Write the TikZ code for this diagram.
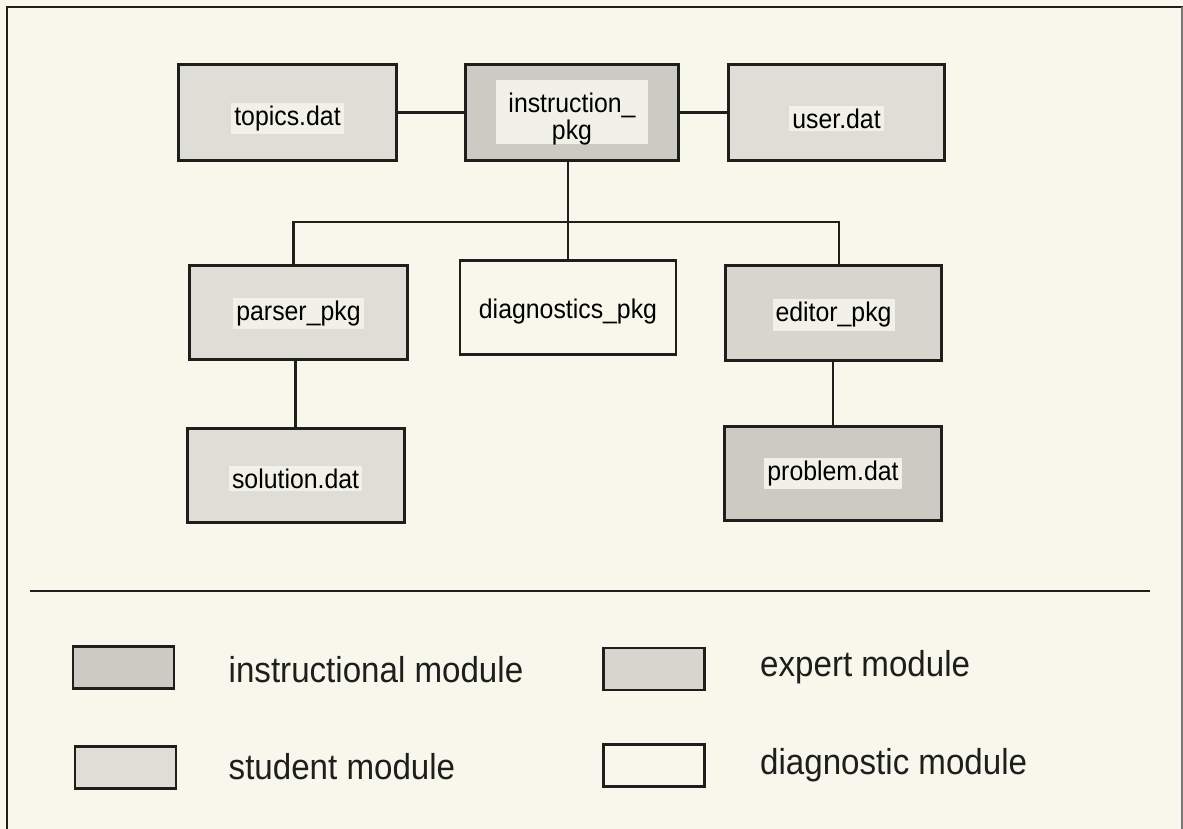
\documentclass[tikz,border=0pt]{standalone}
\usepackage{fontspec}
\setmainfont{Liberation Sans}[FakeStretch=0.92]
\definecolor{bg}{HTML}{F8F7EC}
\definecolor{ink}{HTML}{1E1E1C}
\definecolor{shA}{HTML}{CBCBC3}
\definecolor{shB}{HTML}{DEDED6}
\definecolor{shC}{HTML}{D6D6CE}
\definecolor{hlcol}{HTML}{F1F1E8}
\newcommand{\hltxt}[2][0pt]{\raisebox{-#1}[\height][\depth]{\setlength{\fboxsep}{3pt}\colorbox{hlcol}{#2}}}
\newcommand{\lowertxt}[2]{\raisebox{-#1}[\height][\depth]{#2}}
\begin{document}
\begin{tikzpicture}[x=1pt,y=1pt,
  mod/.style={draw=ink, line width=2.8pt, inner sep=0pt, align=center,
    font=\fontsize{27}{22}\selectfont},
  legbox/.style={draw=ink, line width=2.5pt, inner sep=0pt,
    minimum width=101pt, minimum height=42pt},
  legtxt/.style={anchor=base west, inner sep=0pt, text=ink,
    font=\fontsize{36}{38}\selectfont},
  conn/.style={draw=ink, line width=2.8pt},
  frameline/.style={draw=ink, line width=2pt}]
\fill[bg] (0,0) rectangle (1183,829);
\useasboundingbox (0,0) rectangle (1183,829);
% frame
\coordinate (fTL) at (7,822);
\coordinate (fBL) at (7,-5);
\coordinate (fTR) at (1190,822);
\coordinate (fR1) at (1181.5,822);
\coordinate (fR2) at (1181.5,-5);
\draw[frameline] (fBL) -- (fTL) -- (fTR);
\draw[frameline, draw=ink!60] (fR1) -- (fR2);
% top row
\node[mod, fill=shB, minimum width=218pt, minimum height=96pt] (topics) at (287.5,716.5) {\hltxt[6pt]{topics.dat}};
\node[mod, fill=shA, minimum width=213pt, minimum height=96pt,
  path picture={\fill[hlcol] ([xshift=30pt,yshift=-16pt]path picture bounding box.north west) rectangle ([xshift=-31pt,yshift=16pt]path picture bounding box.south east);}]
  (instr) at (572,716.5) {\lowertxt{7pt}{\begin{tabular}{@{}c@{}}instruction\_\\pkg\end{tabular}}};
\node[mod, fill=shB, minimum width=216pt, minimum height=96pt] (user) at (836.5,716.5) {\hltxt[6pt]{user.dat}};
% middle row
\node[mod, fill=shB, minimum width=218pt, minimum height=94pt] (parser) at (298.5,516.5) {\hltxt[1pt]{parser\_pkg}};
\node[mod, minimum width=216pt, minimum height=94pt] (diag) at (568,521.5) {\lowertxt{4pt}{diagnostics\_pkg}};
\node[mod, fill=shC, minimum width=216pt, minimum height=95pt] (editor) at (833.5,516) {\hltxt[2pt]{editor\_pkg}};
% bottom row
\node[mod, fill=shB, minimum width=217pt, minimum height=94pt] (solution) at (295.6,353.5) {\hltxt[3pt]{solution.dat}};
\node[mod, fill=shA, minimum width=217pt, minimum height=94pt] (problem) at (833,355.5) {\hltxt[0pt]{problem.dat}};
% connectors
\draw[conn] (topics.east) -- (instr.west);
\draw[conn] (instr.east) -- (user.west);
\draw[conn] (diag.north) -- (diag.north |- instr.south);
\coordinate (busL) at (293.5,607);
\coordinate (busR) at (839,607);
\draw[conn] (busL |- parser.north) -- (busL) -- (busR) -- (busR |- editor.north);
\draw[conn] (solution.north) -- (solution.north |- parser.south);
\draw[conn] (problem.north) -- (problem.north |- editor.south);
% separator
\coordinate (sepL) at (30,238);
\coordinate (sepR) at (1150,238);
\draw[conn, line width=2.4pt] (sepL) -- (sepR);
% legend
\node[legbox, fill=shA] (lgI) at (123.5,161.5) {};
\node[legtxt] (tI) at (228.5,146) {instructional module};
\node[legbox, fill=shB] (lgS) at (125.4,61.5) {};
\node[legtxt] (tS) at (228.5,49) {student module};
\node[legbox, fill=shC] (lgE) at (654,160) {};
\node[legtxt] (tE) at (760,152) {expert module};
\node[legbox] (lgD) at (654,63.5) {};
\node[legtxt] (tD) at (760,54) {diagnostic module};
\end{tikzpicture}
\end{document}
